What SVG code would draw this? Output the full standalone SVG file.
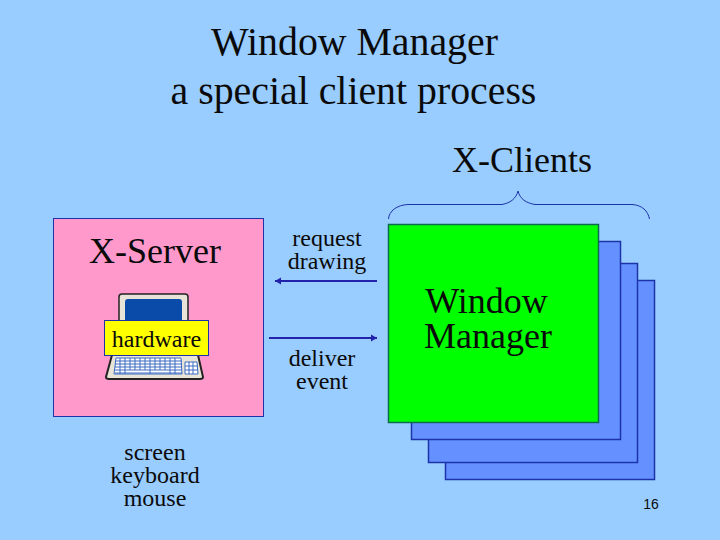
<svg xmlns="http://www.w3.org/2000/svg" width="720" height="540" viewBox="0 0 720 540">
<style>
text{font-family:"Liberation Serif","Times New Roman",serif;fill:#0a0a0a;text-anchor:middle}
.t{font-size:39.800px}
.m{font-size:36px}
.s{font-size:24px}
.win{fill:#6491ff;stroke:#1c34a8;stroke-width:1.5}
.arr{stroke:#2222aa;stroke-width:2.200;fill:none}
</style>
<defs>
<marker id="ah" markerUnits="userSpaceOnUse" markerWidth="8" markerHeight="8" refX="6" refY="4" orient="auto"><path d="M0,0.500 L6,4 L0,7.500 Z" fill="#2222aa"/></marker>
</defs>
<rect width="720" height="540" fill="#99ccff"/>
<g id="title">
<text class="t" x="354.500" y="55">Window Manager</text>
<text class="t" x="353.500" y="104">a special client process</text>
</g>
<g id="x-clients-label">
<text class="m" x="522" y="172">X-Clients</text>
<path d="M388.500,219 C389,211 397,205 408,204.500 L502,204.500 C510,203 516,199 518,191 C520,199 526,203 535,204.500 L632,204.500 C642,205 648,211 649.500,219" fill="none" stroke="#1c34a8" stroke-width="1"/>
</g>
<g id="x-server">
<rect x="53.500" y="218.500" width="210" height="198" fill="#ff99cc" stroke="#1c34a8" stroke-width="1"/>
<text class="m" x="155" y="263">X-Server</text>
</g>
<g id="computer">
<path d="M122,294 H185 Q188,294 188,297 L188,325 H119 V297 Q119,294 122,294 Z" fill="#e8e4d8" stroke="#222" stroke-width="1.500"/>
<path d="M128,299 H179 Q182,299 182,302 V322 H125 V302 Q125,299 128,299 Z" fill="#0a4aa8"/>
<path d="M112,355 H198 L203,377 Q203,379 200,379 H109 Q106,379 106,377 Z" fill="#e8e4d8" stroke="#222" stroke-width="2"/>
<path d="M116,358 H181 L182,374 H114 Z" fill="#fff" stroke="#3a6ac0" stroke-width="1"/>
<path d="M115,361 H182 M115,364 H182 M115,367 H182 M115,370 H182 M115,373 H182 M120,358 V374 M125,358 V374 M130,358 V370 M135,358 V370 M140,358 V370 M145,358 V370 M150,358 V374 M155,358 V370 M160,358 V370 M165,358 V370 M170,358 V374 M175,358 V374" stroke="#3a6ac0" stroke-width="1" fill="none"/>
<path d="M185,362 H197 L198,374 H185 Z M185,366 H198 M185,370 H198 M189,362 V374 M193,362 V374" fill="#fff" stroke="#3a6ac0" stroke-width="1"/>
</g>
<g id="hardware">
<rect x="104.500" y="320.500" width="104" height="35" fill="#ffff00" stroke="#1c34a8" stroke-width="1"/>
<text class="s" x="156.500" y="347">hardware</text>
</g>
<g id="screen-keyboard-mouse">
<text class="s" x="155" y="460">screen</text>
<text class="s" x="155" y="483">keyboard</text>
<text class="s" x="155" y="506">mouse</text>
</g>
<g id="clients">
<rect class="win" x="445.500" y="280.500" width="209" height="199"/>
<rect class="win" x="428.500" y="263.500" width="209" height="199"/>
<rect class="win" x="411.500" y="241.500" width="209" height="198"/>
</g>
<g id="window-manager">
<rect x="388.500" y="224.500" width="210" height="198" fill="#00ff00" stroke="#0c6a50" stroke-width="1.500"/>
<text class="m" x="486.500" y="313">Window</text>
<text class="m" x="488" y="348">Manager</text>
</g>
<g id="connectors">
<line class="arr" x1="377" y1="281" x2="275" y2="281" marker-end="url(#ah)"/>
<line class="arr" x1="269" y1="338" x2="377" y2="338" marker-end="url(#ah)"/>
</g>
<g id="labels">
<text class="s" x="327" y="246">request</text>
<text class="s" x="327" y="269">drawing</text>
<text class="s" x="322" y="366">deliver</text>
<text class="s" x="322" y="389">event</text>
</g>
<text x="651" y="509" style="font-family:'Liberation Sans',Arial,sans-serif;font-size:14px">16</text>
</svg>
